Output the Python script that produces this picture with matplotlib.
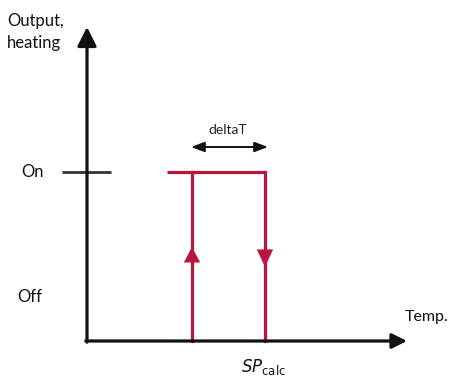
import matplotlib
matplotlib.use("Agg")
import matplotlib.pyplot as plt

plt.rcParams['font.family'] = ['Lato', 'DejaVu Sans']

# schematic values (axes origin at 0,0)
temp_switch_on = 105      # heating switches on (rising arrow)
temp_switch_off = 178     # heating switches off (falling arrow)
temp_on_start = 80        # start of "On" plateau
output_on = 169
output_off = 0
arrow_level = 86
y_axis_top = 314
x_axis_end = 320
on_tick = [-25, 24]

red = '#b8163f'
black = '#111111'

fig = plt.figure(figsize=(4.5, 3.78), dpi=100)
ax = fig.add_axes([0, 0, 1, 1])
ax.set_xlim(-87, 363)
ax.set_ylim(-37, 341)
ax.axis('off')

# axes with arrowheads
ax.annotate('', xy=(0, y_axis_top), xytext=(0, output_off - 1.2),
            arrowprops=dict(arrowstyle='-|>,head_length=1.15,head_width=0.58',
                            mutation_scale=10, color=black, lw=2.3, shrinkA=0, shrinkB=0))
ax.annotate('', xy=(x_axis_end, output_off), xytext=(-1.2, output_off),
            arrowprops=dict(arrowstyle='-|>,head_length=0.9,head_width=0.45',
                            mutation_scale=10, color=black, lw=2.3, shrinkA=0, shrinkB=0))
# On tick
ax.plot(on_tick, [output_on, output_on], color='#333333', lw=2.0, solid_capstyle='butt')

# hysteresis loop
ax.plot([temp_switch_on, temp_switch_on], [output_off, output_on], color=red, lw=2.3)
ax.plot([temp_switch_off, temp_switch_off], [output_off, output_on], color=red, lw=2.3)
ax.plot([temp_on_start, temp_switch_off], [output_on, output_on], color=red, lw=2.3,
        solid_capstyle='butt')

# direction arrows
ax.annotate('', xy=(temp_switch_on, arrow_level + 8), xytext=(temp_switch_on, arrow_level - 10),
            arrowprops=dict(arrowstyle='-|>,head_length=1.1,head_width=0.58',
                            mutation_scale=10, color=red, lw=0.1, shrinkA=0, shrinkB=0))
ax.annotate('', xy=(temp_switch_off, arrow_level - 12), xytext=(temp_switch_off, arrow_level + 8),
            arrowprops=dict(arrowstyle='-|>,head_length=1.25,head_width=0.58',
                            mutation_scale=10, color=red, lw=0.1, shrinkA=0, shrinkB=0))

# deltaT double arrow
ax.annotate('', xy=(temp_switch_on - 1, 194), xytext=(temp_switch_off + 3, 194),
            arrowprops=dict(arrowstyle='<|-|>,head_length=0.8,head_width=0.3',
                            mutation_scale=10, color=black, lw=1.4, shrinkA=0, shrinkB=0))
ax.text(141, 211, 'deltaT', ha='center', va='center', fontsize=10, color='#222222')

# labels
ax.text(-80, 309, 'Output,\nheating', ha='left', va='center', fontsize=12,
        color='#111111', linespacing=1.45)
ax.text(-55, output_on, 'On', ha='center', va='center', fontsize=12, color='#111111')
ax.text(-57, 44, 'Off', ha='center', va='center', fontsize=12, color='#111111')
ax.text(318, 24, 'Temp.', ha='left', va='center', fontsize=11.5, color='#111111')
ax.text(176, -26, r'$\mathit{SP}_{\mathrm{calc}}$', ha='center', va='center',
        fontsize=12, color='#111111')

fig.savefig('out.png', dpi=100)
